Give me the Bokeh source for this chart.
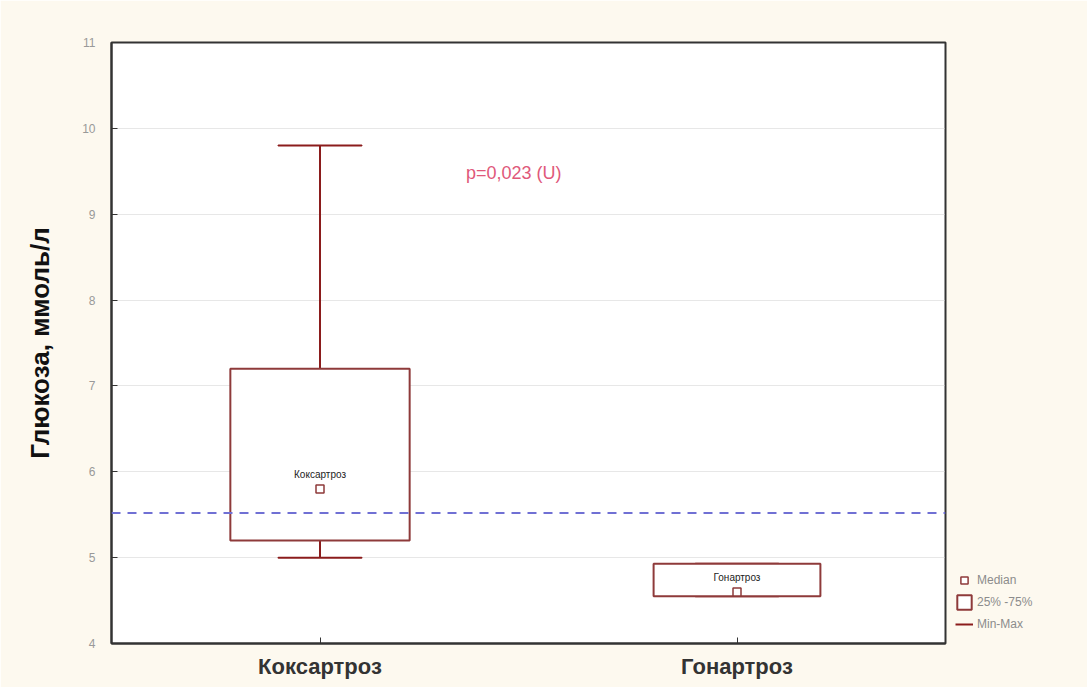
from bokeh.plotting import figure
from bokeh.models import (FactorRange, Range1d, Span, FixedTicker,
                          Legend, LegendItem, ColumnDataSource, Label)
from bokeh.core.properties import value
from bokeh.embed import file_html
from bokeh.resources import INLINE

# ---- data ----
categories = ["Коксартроз", "Гонартроз"]
mins = [5.0, 4.55]
q1 = [5.2, 4.55]
medians = [5.8, 4.6]
q3 = [7.2, 4.93]
maxs = [9.8, 4.93]
reference_level = 5.52
y_ticks = [4, 5, 6, 7, 8, 9, 10, 11]
p_text = "p=0,023 (U)"
p_pos = (0.85, 9.48)

box_widths = [0.43, 0.40]

src = ColumnDataSource(dict(cat=categories, lo=mins, q1=q1, med=medians,
                            q3=q3, hi=maxs, w=box_widths))

BOX = "#8e3a3a"
WHISK = "#8b1c1c"
CREAM = "#fdf9ef"
GRAYTXT = "#8c8c8c"
FONT = "Liberation Sans"

p = figure(frame_width=834, frame_height=601,
           x_range=FactorRange(factors=categories, range_padding=0),
           y_range=Range1d(4, 11), output_backend="svg", toolbar_location=None,
           min_border_left=111, min_border_right=134, min_border_top=42, min_border_bottom=44)

p.background_fill_color = "white"
p.border_fill_color = CREAM
p.outline_line_color = "#333333"
p.outline_line_width = 2

# grid
p.xgrid.grid_line_color = None
p.ygrid.ticker = FixedTicker(ticks=y_ticks)
p.ygrid.grid_line_color = "#cfcfcf"
p.ygrid.grid_line_dash = "1 1"
p.ygrid.grid_line_width = 1

# y axis
p.yaxis.ticker = FixedTicker(ticks=y_ticks)
p.yaxis.axis_line_color = "#333333"
p.yaxis.axis_line_width = 2
p.yaxis.major_tick_in = 6
p.yaxis.major_tick_out = 0
p.yaxis.minor_tick_line_color = None
p.yaxis.major_tick_line_color = "#333333"
p.yaxis.major_label_text_color = "#999999"
p.yaxis.major_label_text_font = FONT
p.yaxis.major_label_text_font_size = "12px"
p.yaxis.major_label_standoff = 16
p.yaxis.axis_label = "Глюкоза, ммоль/л"
p.yaxis.axis_label_text_font = FONT
p.yaxis.axis_label_text_font_style = "bold"
p.yaxis.axis_label_text_font_size = "26px"
p.yaxis.axis_label_text_color = "#111111"
p.yaxis.axis_label_standoff = 24

# x axis
p.xaxis.axis_line_color = "#333333"
p.xaxis.axis_line_width = 2
p.xaxis.major_tick_in = 6
p.xaxis.major_tick_out = 0
p.xaxis.major_tick_line_color = "#333333"
p.xaxis.major_label_text_font = FONT
p.xaxis.major_label_text_font_style = "bold"
p.xaxis.major_label_text_font_size = "22px"
p.xaxis.major_label_text_color = "#333333"
p.xaxis.major_label_standoff = 10

# reference line
p.add_layout(Span(location=reference_level, dimension="width", line_color="#7070d4",
                  line_width=2, line_dash="9 7"))

# whiskers
wh = p.segment(x0="cat", y0="lo", x1="cat", y1="q1", source=src, line_color=WHISK, line_width=2)
p.segment(x0="cat", y0="q3", x1="cat", y1="hi", source=src, line_color=WHISK, line_width=2)
p.rect(x="cat", y="lo", width=0.2, height=0.0001, source=src, line_color=WHISK,
       line_width=2, fill_color=None)
p.rect(x="cat", y="hi", width=0.2, height=0.0001, source=src, line_color=WHISK,
       line_width=2, fill_color=None)

# boxes
bx = p.vbar(x="cat", bottom="q1", top="q3", width="w", source=src, fill_color="white",
            line_color=BOX, line_width=2)

# medians
md = p.scatter(x="cat", y="med", source=src, marker="square", size=8, fill_color="white",
               line_color=BOX, line_width=1.5)

# group labels inside boxes
p.text(x="cat", y="med", text="cat", source=src, text_align="center", text_baseline="bottom",
       y_offset=-9, text_font=value(FONT), text_font_size="10px",
       text_color="#222222")

# p-value
p.add_layout(Label(x=p_pos[0], y=p_pos[1], text=p_text, text_color="#e0587a",
                   text_font=FONT, text_font_size="18px",
                   text_baseline="middle"))

# legend (right side panel)
leg = Legend(items=[LegendItem(label="Median", renderers=[md]),
                    LegendItem(label="25% -75%", renderers=[bx]),
                    LegendItem(label="Min-Max", renderers=[wh])],
             location="bottom_left", background_fill_alpha=0, border_line_color=None,
             label_text_color=GRAYTXT, label_text_font=FONT,
             label_text_font_size="12px", glyph_width=18, glyph_height=18,
             spacing=4, padding=2, margin=10, label_standoff=4)
p.add_layout(leg, "right")

open("out.html", "w").write(file_html(p, INLINE))
